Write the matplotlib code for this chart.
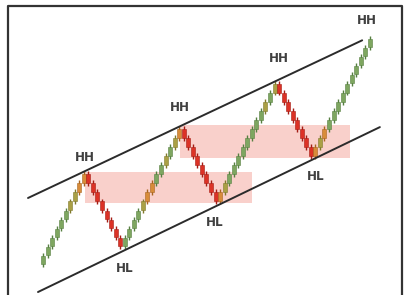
import matplotlib
matplotlib.use("Agg")
import matplotlib.pyplot as plt
from matplotlib.patches import Rectangle

# ---- data ----
levels = ([0, 1, 2, 3, 4, 5, 6, 7, 8, 9] +
          [9, 8, 7, 6, 5, 4, 3, 2] +
          [2, 3, 4, 5, 6, 7, 8, 9, 10, 11, 12, 13, 14] +
          [14, 13, 12, 11, 10, 9, 8, 7] +
          [7, 8, 9, 10, 11, 12, 13, 14, 15, 16, 17, 18, 19] +
          [19, 18, 17, 16, 15, 14, 13, 12] +
          [12, 13, 14, 15, 16, 17, 18, 19, 20, 21, 22, 23, 24])
# G=green, O=olive, A=orange, R=red
color_codes = ("GGGGGGOOAA" + "RRRRRRRR" +
               "GGGGOAAGGOGOA" + "RRRRRRRR" +
               "AOGGGGGGGGOGO" + "RRRRRRRR" +
               "AOAGGGGGGGGGG")
labels = ["HH", "HL", "HH", "HL", "HH", "HL", "HH"]
label_idx = [9.3, 18.0, 30.2, 37.9, 52.0, 60.1, 71.4]
label_lvl = [11.3, -0.9, 16.9, 4.1, 22.3, 9.2, 26.5]
upper_x, upper_y = [-3.3, 70.3], [6.86, 24.3]
lower_x, lower_y = [-1.1, 74.2], [-3.54, 14.7]
zone_x0 = [9.25, 30.2]
zone_x1 = [46.0, 67.6]
zone_lo = [6.3, 11.3]
zone_hi = [9.73, 14.9]

palette = {"G": "#7ea660", "O": "#aaa045", "A": "#d88c3a", "R": "#dc3226"}
edge = {"G": "#567f40", "O": "#807a2c", "A": "#a86520", "R": "#a51d15"}

fig = plt.figure(figsize=(4.14, 2.95), dpi=100)
ax = fig.add_axes([0, 0, 1, 1])
ax.set_xlim(-9.47, 81.72)
ax.set_ylim(-3.87, 28.76)
ax.axis("off")

for x0, x1, lo, hi in zip(zone_x0, zone_x1, zone_lo, zone_hi):
    ax.add_patch(Rectangle((x0, lo), x1 - x0, hi - lo, facecolor="#f8c8c2",
                           edgecolor="none", alpha=0.85, zorder=1))

xs = list(range(len(levels)))
cols = [palette[c] for c in color_codes]
ecols = [edge[c] for c in color_codes]
ax.vlines(xs, [l - 0.8 for l in levels], [l + 0.8 for l in levels],
          colors=ecols, linewidth=1.0, zorder=2)
ax.bar(xs, [0.95] * len(levels), bottom=[l - 0.475 for l in levels], width=0.88,
       color=cols, edgecolor=ecols, linewidth=0.4, zorder=3)

ax.plot(upper_x, upper_y, color="#2b2b2b", lw=1.4, zorder=4, solid_capstyle="round")
ax.plot(lower_x, lower_y, color="#2b2b2b", lw=1.4, zorder=4, solid_capstyle="round")

for t, x, y in zip(labels, label_idx, label_lvl):
    ax.text(x, y, t, ha="center", va="center", fontsize=9.5, fontweight="bold",
            fontstretch="condensed", family=["DejaVu Sans"], color="#404040", zorder=5)

# frame (no bottom edge)
ax.plot([8 / 414, 8 / 414, 402 / 414, 402 / 414], [0, 1 - 6 / 295, 1 - 6 / 295, 0],
        transform=ax.transAxes, color="#333333", lw=1.6, clip_on=False, zorder=6)

fig.savefig("out.png", dpi=100)
